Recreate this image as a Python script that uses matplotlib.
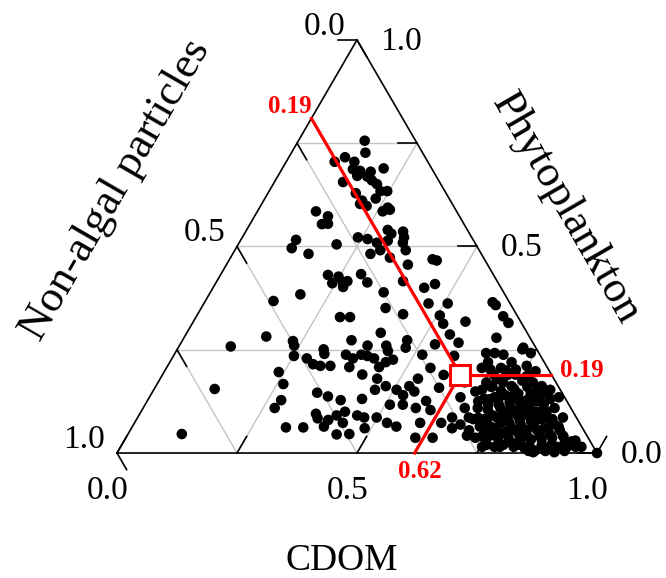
import numpy as np
import matplotlib
matplotlib.use("Agg")
import matplotlib.pyplot as plt

plt.rcParams['font.family'] = ['Liberation Serif', 'DejaVu Serif']

# ternary samples: CDOM and phytoplankton fractions (non-algal = 1 - both)
cdom = [
    0.138, 0.154, 0.117, 0.142, 0.101, 0.148, 0.165, 0.188, 0.211, 0.187,
    0.201, 0.143, 0.165, 0.183, 0.216, 0.246, 0.232, 0.231, 0.205, 0.205,
    0.221, 0.267, 0.261, 0.274, 0.241, 0.263, 0.294, 0.306, 0.328, 0.337,
    0.341, 0.287, 0.303, 0.307, 0.356, 0.287, 0.332, 0.378, 0.423, 0.433,
    0.315, 0.361, 0.388, 0.440, 0.458, 0.468, 0.384, 0.428, 0.508, 0.506,
    0.523, 0.567, 0.550, 0.578, 0.531, 0.468, 0.517, 0.585,
    0.122, 0.153, 0.150, 0.162, 0.205, 0.115, 0.116, 0.158, 0.224, 0.248,
    0.264, 0.272, 0.243, 0.270, 0.292, 0.190, 0.142, 0.300, 0.321, 0.170,
    0.108, 0.231, 0.239, 0.352, 0.392, 0.404, 0.431, 0.441, 0.474, 0.305,
    0.312, 0.251, 0.281, 0.301, 0.339, 0.318, 0.358, 0.377, 0.380, 0.390,
    0.404, 0.421, 0.450, 0.442, 0.462, 0.537, 0.550, 0.586, 0.239, 0.263,
    0.344, 0.371, 0.402, 0.416, 0.452, 0.445, 0.461, 0.479, 0.506, 0.528,
    0.526, 0.545, 0.126, 0.112, 0.278, 0.274, 0.367, 0.400, 0.376, 0.412,
    0.425, 0.455, 0.472, 0.434, 0.399, 0.435, 0.461, 0.486, 0.321, 0.357,
    0.526, 0.510, 0.537, 0.568, 0.601, 0.581, 0.595, 0.639, 0.668, 0.655,
    0.603, 0.639, 0.681, 0.690, 0.670, 0.706, 0.728, 0.592, 0.648,
    0.550, 0.498, 0.639, 0.708, 0.701, 0.753, 0.748, 0.817,
    0.648, 0.666, 0.663, 0.686, 0.712, 0.719, 0.741, 0.657, 0.677, 0.697,
    0.730, 0.748, 0.773, 0.719, 0.701, 0.684, 0.684, 0.701, 0.719, 0.741,
    0.757, 0.781, 0.804, 0.826, 0.790, 0.764, 0.739, 0.719, 0.699, 0.672,
    0.697, 0.715, 0.737, 0.757, 0.779, 0.799, 0.817, 0.837, 0.853, 0.857,
    0.837, 0.817, 0.795, 0.773, 0.757, 0.737, 0.724, 0.724, 0.746, 0.764,
    0.781, 0.801, 0.824, 0.844, 0.866, 0.886, 0.888, 0.868, 0.848, 0.826,
    0.804, 0.784, 0.766, 0.753, 0.784, 0.804, 0.824, 0.846, 0.868, 0.888,
    0.908, 0.933, 0.948, 0.930, 0.908, 0.888, 0.868, 0.844, 0.819, 0.866,
    0.910, 0.795, 0.779, 1.000, 0.764, 0.600, 0.610, 0.639, 0.658, 0.651,
    0.719,
    0.690, 0.710, 0.735, 0.760, 0.700, 0.725, 0.750, 0.775, 0.800, 0.690,
    0.710, 0.730, 0.750, 0.770, 0.790, 0.810, 0.830, 0.845, 0.720, 0.745,
    0.765, 0.785, 0.805, 0.825, 0.710, 0.730, 0.750, 0.770, 0.790, 0.810,
    0.830, 0.855, 0.875, 0.735, 0.760, 0.790, 0.810, 0.835, 0.860, 0.895,
    0.740, 0.775, 0.795, 0.815, 0.835, 0.860, 0.880, 0.910, 0.760, 0.790,
    0.810, 0.830, 0.850, 0.875, 0.895, 0.920, 0.940, 0.960, 0.855, 0.890,
    0.930,
]
phyto = [
    0.756, 0.727, 0.716, 0.705, 0.705, 0.687, 0.683, 0.681, 0.689, 0.669,
    0.660, 0.656, 0.671, 0.629, 0.651, 0.634, 0.634, 0.616, 0.611, 0.603,
    0.598, 0.594, 0.585, 0.589, 0.522, 0.518, 0.540, 0.531, 0.536, 0.522,
    0.509, 0.509, 0.491, 0.514, 0.491, 0.482, 0.473, 0.456, 0.469, 0.466,
    0.413, 0.389, 0.416, 0.400, 0.409, 0.362, 0.351, 0.336, 0.362, 0.333,
    0.313, 0.318, 0.287, 0.267, 0.263, 0.273, 0.238, 0.235,
    0.585, 0.573, 0.554, 0.555, 0.505, 0.516, 0.496, 0.482, 0.431, 0.427,
    0.413, 0.416, 0.411, 0.402, 0.433, 0.384, 0.368, 0.329, 0.329, 0.282,
    0.258, 0.271, 0.260, 0.273, 0.260, 0.291, 0.260, 0.247, 0.255, 0.251,
    0.240, 0.235, 0.229, 0.215, 0.211, 0.211, 0.238, 0.229, 0.208, 0.238,
    0.235, 0.229, 0.220, 0.208, 0.226, 0.180, 0.206, 0.189, 0.196, 0.167,
    0.146, 0.137, 0.128, 0.190, 0.180, 0.131, 0.153, 0.162, 0.153, 0.162,
    0.140, 0.149, 0.155, 0.046, 0.128, 0.109, 0.095, 0.080, 0.084, 0.091,
    0.100, 0.091, 0.086, 0.073, 0.064, 0.045, 0.046, 0.060, 0.062, 0.062,
    0.073, 0.117, 0.117, 0.109, 0.104, 0.126, 0.073, 0.073, 0.060, 0.086,
    0.037, 0.037, 0.069, 0.086, 0.109, 0.055, 0.037, 0.158, 0.135,
    0.064, 0.086, 0.171, 0.042, 0.082, 0.015, 0.051, 0.144,
    0.242, 0.242, 0.220, 0.238, 0.220, 0.251, 0.242, 0.206, 0.202, 0.206,
    0.202, 0.211, 0.198, 0.189, 0.180, 0.171, 0.153, 0.162, 0.171, 0.162,
    0.175, 0.171, 0.162, 0.153, 0.144, 0.144, 0.140, 0.135, 0.131, 0.149,
    0.109, 0.117, 0.117, 0.122, 0.122, 0.117, 0.126, 0.131, 0.135, 0.109,
    0.104, 0.100, 0.100, 0.100, 0.095, 0.091, 0.082, 0.064, 0.064, 0.073,
    0.073, 0.077, 0.077, 0.082, 0.082, 0.086, 0.064, 0.060, 0.055, 0.055,
    0.055, 0.051, 0.042, 0.033, 0.024, 0.028, 0.033, 0.033, 0.033, 0.037,
    0.042, 0.028, 0.015, 0.015, 0.015, 0.011, 0.006, 0.011, 0.015, 0.002,
    0.002, 0.020, 0.015, 0.000, 0.189, 0.365, 0.358, 0.331, 0.315, 0.279,
    0.255,
    0.190, 0.200, 0.190, 0.185, 0.160, 0.150, 0.155, 0.160, 0.150, 0.125,
    0.130, 0.128, 0.135, 0.132, 0.128, 0.125, 0.118, 0.100, 0.105, 0.108,
    0.110, 0.110, 0.108, 0.100, 0.085, 0.080, 0.085, 0.088, 0.090, 0.092,
    0.090, 0.085, 0.070, 0.062, 0.060, 0.062, 0.065, 0.068, 0.060, 0.055,
    0.040, 0.045, 0.040, 0.045, 0.040, 0.042, 0.045, 0.040, 0.020, 0.015,
    0.025, 0.020, 0.018, 0.020, 0.020, 0.025, 0.030, 0.015, 0.005, 0.005,
    0.005,
]

# highlighted sample
mark_cdom, mark_phyto, mark_nap = 0.62, 0.19, 0.19

grid_levels = [0.25, 0.5, 0.75]
tick_levels = [0.0, 0.25, 0.5, 0.75, 1.0]
label_levels = [0.0, 0.5, 1.0]

H = np.sqrt(3) / 2


def tern(c, p):
    c = np.asarray(c, dtype=float)
    p = np.asarray(p, dtype=float)
    return c + p / 2, p * H


fig = plt.figure(figsize=(6.66, 5.78), dpi=100)
ax = fig.add_axes([0, 0, 1, 1])
ax.set_xlim(-0.24375, 1.14375)
ax.set_ylim(-0.262, 0.9497)
ax.axis('off')

# grid
for t in grid_levels:
    x, y = tern([0, 1 - t], [t, t])          # constant phytoplankton
    ax.plot(x, y, color='#c4c4c4', lw=1.0, zorder=1)
    x, y = tern([t, t], [0, 1 - t])          # constant cdom
    ax.plot(x, y, color='#c4c4c4', lw=1.0, zorder=1)
    x, y = tern([0, 1 - t], [1 - t, 0])      # constant non-algal
    ax.plot(x, y, color='#c4c4c4', lw=1.0, zorder=1)

# outline
x, y = tern([0, 1, 0, 0], [0, 0, 1, 0])
ax.plot(x, y, color='black', lw=1.2, zorder=2, solid_joinstyle='miter')

# ticks
tl = 0.04
for t in tick_levels:
    x, y = tern(t, 0)
    ax.plot([x, x + tl * 0.5], [y, y + tl * H], color='black', lw=1.2, zorder=2)
    x, y = tern(0, 1 - t)
    ax.plot([x, x + tl * 0.5], [y, y - tl * H], color='black', lw=1.2, zorder=2)
    x, y = tern(1 - t, t)
    ax.plot([x, x - tl], [y, y], color='black', lw=1.2, zorder=2)

# tick labels
for t in label_levels:
    x, y = tern(t, 0)
    ax.text(x - 0.02, y - 0.08, f'{t:.1f}', fontsize=24, ha='center', va='center')
    x, y = tern(0, 1 - t)
    ax.text(x - 0.068, y + 0.028, f'{t:.1f}', fontsize=24, ha='center', va='center')
    x, y = tern(1 - t, t)
    ax.text(x + 0.092, y - 0.003, f'{t:.1f}', fontsize=24, ha='center', va='center')

# axis titles
ax.text(0.469, -0.226, 'CDOM', fontsize=27, ha='center', va='center')
ax.text(-0.002, 0.552, 'Non-algal particles', fontsize=32, rotation=60,
        ha='center', va='center', rotation_mode='anchor')
ax.text(0.935, 0.512, 'Phytoplankton', fontsize=32, rotation=-60,
        ha='center', va='center', rotation_mode='anchor')

# samples
x, y = tern(cdom, phyto)
ax.scatter(x, y, s=58, color='black', edgecolors='none', zorder=3)

# highlighted sample with guide lines
px, py = tern(mark_cdom, mark_phyto)
red = '#ff0000'
x, y = tern([mark_cdom, 0], [mark_phyto, 1 - mark_nap])
ax.plot(x, y, color=red, lw=2.3, zorder=4)
x, y = tern([mark_cdom, 1 - mark_phyto], [mark_phyto, mark_phyto])
ax.plot(x, y, color=red, lw=2.3, zorder=4)
x, y = tern([mark_cdom, mark_cdom], [mark_phyto, 0])
ax.plot(x, y, color=red, lw=2.3, zorder=4)
ax.plot(px, py, marker='s', ms=15, mfc='white', mec=red, mew=2.2, zorder=5)

x, y = tern(0, 1 - mark_nap)
ax.text(x - 0.046, y + 0.025, f'{mark_nap:.2f}', color=red, fontsize=18,
        fontweight='bold', ha='center', va='center')
x, y = tern(1 - mark_phyto, mark_phyto)
ax.text(x + 0.018, y + 0.008, f'{mark_phyto:.2f}', color=red, fontsize=18,
        fontweight='bold', ha='left', va='center')
x, y = tern(mark_cdom, 0)
ax.text(x + 0.01, y - 0.038, f'{mark_cdom:.2f}', color=red, fontsize=18,
        fontweight='bold', ha='center', va='center')

fig.savefig('out.png', dpi=100)
